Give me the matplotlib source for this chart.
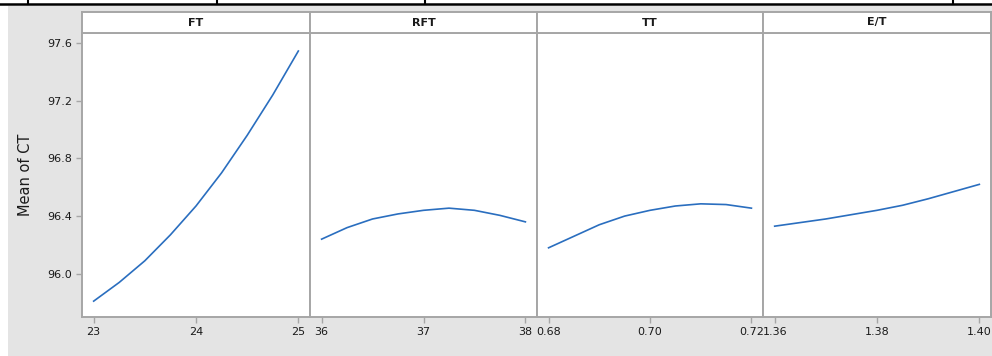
import matplotlib
matplotlib.use("Agg")
import matplotlib.pyplot as plt
from matplotlib.lines import Line2D
from matplotlib.patches import Rectangle

# Main effects on the mean of CT
factors = ["FT", "RFT", "TT", "E/T"]

ft_levels = [23.0, 23.25, 23.5, 23.75, 24.0, 24.25, 24.5, 24.75, 25.0]
ft_mean = [95.81, 95.94, 96.09, 96.27, 96.47, 96.70, 96.96, 97.24, 97.545]

rft_levels = [36.0, 36.25, 36.5, 36.75, 37.0, 37.25, 37.5, 37.75, 38.0]
rft_mean = [96.24, 96.32, 96.38, 96.415, 96.44, 96.455, 96.44, 96.405, 96.36]

tt_levels = [0.680, 0.685, 0.690, 0.695, 0.700, 0.705, 0.710, 0.715, 0.720]
tt_mean = [96.18, 96.26, 96.34, 96.40, 96.44, 96.47, 96.485, 96.48, 96.455]

et_levels = [1.360, 1.365, 1.370, 1.375, 1.380, 1.385, 1.390, 1.395, 1.400]
et_mean = [96.33, 96.355, 96.38, 96.41, 96.44, 96.475, 96.52, 96.57, 96.62]

x_ticks = [[23, 24, 25], [36, 37, 38], [0.68, 0.70, 0.72], [1.36, 1.38, 1.40]]
x_ticklabels = [["23", "24", "25"], ["36", "37", "38"],
                ["0.68", "0.70", "0.72"], ["1.36", "1.38", "1.40"]]
y_ticks = [96.0, 96.4, 96.8, 97.2, 97.6]
y_ticklabels = ["96.0", "96.4", "96.8", "97.2", "97.6"]
y_label = "Mean of CT"

levels = [ft_levels, rft_levels, tt_levels, et_levels]
means = [ft_mean, rft_mean, tt_mean, et_mean]

W, H = 992, 356
fig = plt.figure(figsize=(W / 100, H / 100), dpi=100)
fig.patch.set_facecolor("white")

bg = "#e4e4e4"
edge = "#a6a6a6"
line_color = "#2a6ebf"
text_color = "#1a1a1a"

# grey canvas behind the panels
fig.patches.append(Rectangle((8 / W, 0), 1 - 8 / W, (H - 6) / H,
                             transform=fig.transFigure, facecolor=bg,
                             edgecolor="none", zorder=-5))

# table rule along the top edge
fig.lines.append(Line2D([0, 1], [1 - 3.5 / H, 1 - 3.5 / H],
                        transform=fig.transFigure, color="black", lw=1.8))
for xp in [28, 217, 425, 953]:
    fig.lines.append(Line2D([xp / W, xp / W], [1 - 3.5 / H, 1],
                            transform=fig.transFigure, color="black", lw=1.5))

edges_px = [82, 310, 537, 763, 991]
plot_top, plot_bottom, strip_top = 33, 317, 12
ylim = (95.70, 97.67)

for i in range(4):
    x0, x1 = edges_px[i], edges_px[i + 1]
    ax = fig.add_axes([x0 / W, (H - plot_bottom) / H, (x1 - x0) / W,
                       (plot_bottom - plot_top) / H])
    ax.set_facecolor("white")
    ax.plot(levels[i], means[i], color=line_color, lw=1.2)
    lo, hi = x_ticks[i][0], x_ticks[i][-1]
    pad = 0.057 * (hi - lo)
    ax.set_xlim(lo - pad, hi + pad)
    ax.set_ylim(*ylim)
    ax.set_xticks(x_ticks[i])
    ax.set_xticklabels(x_ticklabels[i])
    if i == 0:
        ax.set_yticks(y_ticks)
        ax.set_yticklabels(y_ticklabels)
        ax.set_ylabel(y_label, fontsize=10.5, color=text_color, labelpad=10)
    else:
        ax.set_yticks([])
    ax.tick_params(axis="both", direction="out", length=4, width=1,
                   color=edge, labelsize=8, labelcolor=text_color, pad=3)
    for s in ax.spines.values():
        s.set_color(edge)
        s.set_linewidth(1.4)

    # strip header with the factor name
    sax = fig.add_axes([x0 / W, (H - plot_top) / H, (x1 - x0) / W,
                        (plot_top - strip_top) / H])
    sax.set_facecolor("white")
    sax.set_xticks([])
    sax.set_yticks([])
    for s in sax.spines.values():
        s.set_color(edge)
        s.set_linewidth(1.4)
    sax.text(0.5, 0.5, factors[i], transform=sax.transAxes, ha="center",
             va="center", fontsize=8, fontweight="bold", color=text_color)

fig.savefig("out.png", dpi=100, facecolor=fig.get_facecolor())
